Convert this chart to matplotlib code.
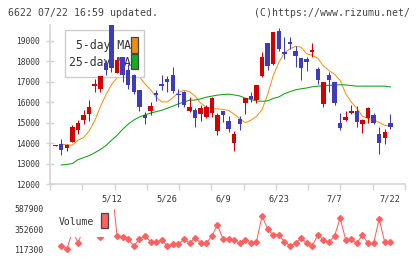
import numpy as np
import matplotlib
matplotlib.use("Agg")
import matplotlib.pyplot as plt
from matplotlib.patches import Rectangle
from matplotlib.transforms import blended_transform_factory

nan = np.nan
# ---------------- data ----------------
date_labels = ["5/12", "5/26", "6/9", "6/23", "7/7", "7/22"]
date_label_idx = [10, 20, 30, 40, 50, 60]

opens = [13880, 13970, 13760, 14060, 14660, 15120, 15440, 16810, 16670, 17900,
         19900, 17450, 18200, 17570, 17320, 16590, 15360, 15560, 16450, 16910,
         17150, 17350, 16420, 16500, 15560, 15610, 15440, 15280, 15490, 14580,
         15570, 15080, 14020, 15170, 15960, 16310, 16100, 17290, 18890, 17850,
         19470, 18460, 18950, 18510, 18170, 18100, 18470, 17610, 15930, 17350,
         16990, 14990, 15150, 15480, 15560, 14950, 15230, 15360, 14430, 14250,
         14990]
highs = [13910, 14190, 13960, 14900, 15150, 15610, 16100, 17150, 17300, 18050,
         20000, 18230, 18230, 17890, 17400, 16600, 15520, 16010, 16620, 17320,
         17270, 17730, 16650, 16540, 16260, 15720, 15850, 15850, 16260, 15490,
         15580, 15330, 14590, 15310, 16220, 16500, 16870, 18460, 18900, 19440,
         19640, 19200, 19200, 18750, 18170, 18220, 18900, 17730, 17000, 17480,
         17000, 15480, 15560, 15850, 15820, 15200, 15770, 15490, 14790, 14680,
         15410]
lows = [13880, 13410, 13630, 14040, 14460, 14950, 15080, 16490, 16500, 17350,
        17480, 17440, 17000, 16670, 16420, 15570, 14950, 15360, 16050, 16590,
        16500, 16470, 15780, 15770, 15520, 14790, 15080, 15230, 15280, 14410,
        15040, 14550, 13620, 14660, 15440, 16010, 15980, 17240, 17600, 17840,
        18510, 18100, 18620, 17730, 17100, 17530, 18220, 16880, 15770, 16500,
        15880, 14630, 15070, 15410, 14790, 14500, 14990, 14950, 13480, 13970,
        14710]
closes = [13900, 13680, 13890, 14790, 14990, 15360, 15770, 16900, 17290, 17600,
          17690, 18080, 17330, 16860, 16500, 15770, 15230, 15820, 16340, 16810,
          16990, 16550, 16340, 15850, 15770, 15250, 15720, 15770, 16210, 15360,
          15390, 14710, 14430, 14950, 16210, 16180, 16860, 18220, 17800, 19430,
          18630, 18380, 18850, 18270, 17690, 17970, 18540, 17080, 16990, 17110,
          15980, 14740, 15280, 15570, 15030, 15150, 15720, 15000, 14020, 14545,
          14790]
ma5 = [nan, 13950, 13920, 13900, 14150, 14270, 14600, 15100, 15780, 16370,
       16860, 17200, 17500, 17650, 17500, 17250, 16900, 16620, 16260, 16020,
       16020, 16220, 16480, 16590, 16520, 16300, 15960, 15760, 15690, 15680,
       15650, 15600, 15420, 15200, 15000, 15120, 15310, 15640, 16380, 17300,
       17950, 18420, 18620, 18740, 18700, 18370, 18300, 18150, 17780, 17550,
       17370, 17080, 16420, 16010, 15700, 15320, 15200, 15150, 15010, 14870,
       14840]
ma25 = [nan, 12930, 12960, 13000, 13190, 13290, 13390, 13530, 13690, 13880,
        14140, 14380, 14680, 14930, 15130, 15280, 15380, 15470, 15540, 15610,
        15710, 15810, 15920, 16020, 16100, 16110, 16170, 16250, 16300, 16350,
        16380, 16400, 16360, 16310, 16200, 16140, 16060, 16050, 16070, 16190,
        16260, 16420, 16520, 16610, 16660, 16700, 16760, 16790, 16810, 16830,
        16840, 16860, 16850, 16820, 16790, 16790, 16790, 16790, 16790, 16790,
        16750]
volume = [nan, 156000, 117000, 330000, 195000, 350000, 330000, 380000, 265000, 450000,
          900000, 274000, 258000, 235000, 156000, 235000, 277000, 207000, 200000, 227000,
          156000, 180000, 180000, 235000, 188000, 254000, 188000, 188000, 274000, 403000,
          235000, 235000, 227000, 188000, 227000, 188000, 207000, 509000, 353000, 286000,
          286000, 207000, 160000, 188000, 247000, 188000, 156000, 286000, 227000, 200000,
          274000, 482000, 227000, 235000, 188000, 286000, 188000, 188000, 470000, 200000,
          200000]
price_ticks = [12000, 13000, 14000, 15000, 16000, 17000, 18000, 19000]
vol_ticks = [117300, 352600, 587900]

# ---------------- style ----------------
RED = "#d40000"
BLUE = "#3c3cbc"
ORANGE = "#f0900a"
GREEN = "#10a010"
VOLC = "#ff6060"
GRID = "#d4d4d4"
TXT = "#333333"

plt.rcParams['font.family'] = ['DejaVu Sans Mono']

W, H, DPI = 420, 259, 100
fig = plt.figure(figsize=(W / DPI, H / DPI), dpi=DPI)
fig.patch.set_facecolor("white")


def fbox(l, t, r, b):
    return [l / W, 1 - b / H, (r - l) / W, (b - t) / H]


ML, MR, MT, MB = 50, 405, 25, 184
VT, VB = 209, 256
ax = fig.add_axes(fbox(ML, MT, MR, MB))
axv = fig.add_axes(fbox(ML, VT, MR, VB))


def mx(px):
    return (px - ML) / (MR - ML)


def my(py):
    return (MB - py) / (MB - MT)


def vy(py):
    return (VB - py) / (VB - VT)


o = np.array(opens, float)
c = np.array(closes, float)
h = np.array(highs, float)
lo = np.array(lows, float)
x = np.arange(len(o))
cols = [RED if cc >= oo else BLUE for oo, cc in zip(o, c)]

ax.vlines(x, lo, h, colors=cols, linewidth=0.75, zorder=4)
ax.bar(x, np.maximum(np.abs(c - o), 35), bottom=np.minimum(o, c), width=0.8,
       color=cols, linewidth=0, zorder=5)
ax.plot(x, ma5, color=ORANGE, lw=0.7, zorder=2)
ax.plot(x, ma25, color=GREEN, lw=0.75, zorder=2)

xmin, xmax = -1.02, 62.63
ax.set_xlim(xmin, xmax)
ax.set_ylim(12000, 19783)
ax.set_xticks(np.linspace(xmin, xmax, 12))
ax.set_xticklabels([])
ax.set_yticks(price_ticks)
ax.set_yticklabels([str(v) for v in price_ticks], fontsize=5.7, color=TXT)
ax.tick_params(axis='y', direction='inout', length=5.8, width=1, color=GRID, pad=4.6)
ax.tick_params(axis='x', direction='out', length=4.3, width=1, color=GRID)
for s in ['top', 'right']:
    ax.spines[s].set_visible(False)
for s in ['left', 'bottom']:
    ax.spines[s].set_color(GRID)
    ax.spines[s].set_linewidth(1.2)
ax.set_facecolor("none")

# legend (main)
ax.add_patch(Rectangle((mx(65), my(77)), mx(143.7) - mx(65), my(30.3) - my(77),
                       transform=ax.transAxes, facecolor="white", edgecolor="#cccccc",
                       lw=1, zorder=3))
ax.text(mx(130.5), my(46), "5-day MA", transform=ax.transAxes, ha="right", va="center",
        fontsize=8.3, color=TXT, zorder=3.5)
ax.text(mx(130.5), my(62.3), "25-day MA", transform=ax.transAxes, ha="right", va="center",
        fontsize=8.3, color=TXT, zorder=3.5)
ax.add_patch(Rectangle((mx(131.3), my(52.5)), mx(137.7) - mx(131.3), my(37) - my(52.5),
                       transform=ax.transAxes, facecolor=ORANGE, edgecolor="#444444",
                       lw=0.9, zorder=3.6))
ax.add_patch(Rectangle((mx(131.3), my(69.3)), mx(137.7) - mx(131.3), my(54.3) - my(69.3),
                       transform=ax.transAxes, facecolor="#10b020", edgecolor="#444444",
                       lw=0.9, zorder=3.6))

# date labels
tr = blended_transform_factory(ax.transData, fig.transFigure)
for i, lab in zip(date_label_idx, date_labels):
    ax.text(i, 1 - 198.5 / H, lab, transform=tr, ha="center", va="center",
            fontsize=6.2, color=TXT, clip_on=False)

# volume
axv.plot(x, volume, color=VOLC, lw=0.75, marker='D', markersize=3.0, zorder=2)
axv.set_xlim(xmin, xmax)
axv.set_ylim(39000, 587900)
axv.set_xticks([])
axv.set_yticks(vol_ticks)
axv.set_yticklabels([str(v) for v in vol_ticks], fontsize=5.85, color=TXT)
axv.tick_params(axis='y', length=0, pad=4.3)
for s in axv.spines.values():
    s.set_visible(False)
axv.set_facecolor("none")

axv.add_patch(Rectangle((mx(57), vy(237.3)), mx(113.7) - mx(57), vy(200) - vy(237.3),
                        transform=axv.transAxes, facecolor="white", edgecolor="none",
                        zorder=3))
axv.text(mx(59), vy(222.3), "Volume", transform=axv.transAxes, ha="left", va="center",
         fontsize=7, color=TXT, zorder=3.5)
axv.add_patch(Rectangle((mx(101), vy(228.3)), mx(107.7) - mx(101), vy(212.7) - vy(228.3),
                        transform=axv.transAxes, facecolor=VOLC, edgecolor="#444444",
                        lw=0.9, zorder=3.6, clip_on=False))

# header texts
fig.text(8.3 / W, 1 - 12.5 / H, "6622 07/22 16:59 updated.", ha="left", va="center",
         fontsize=7.1, color="#444444")
fig.text(410 / W, 1 - 12.5 / H, "(C)https://www.rizumu.net/", ha="right", va="center",
         fontsize=7.1, color="#444444")

fig.savefig("out.png", dpi=DPI)
